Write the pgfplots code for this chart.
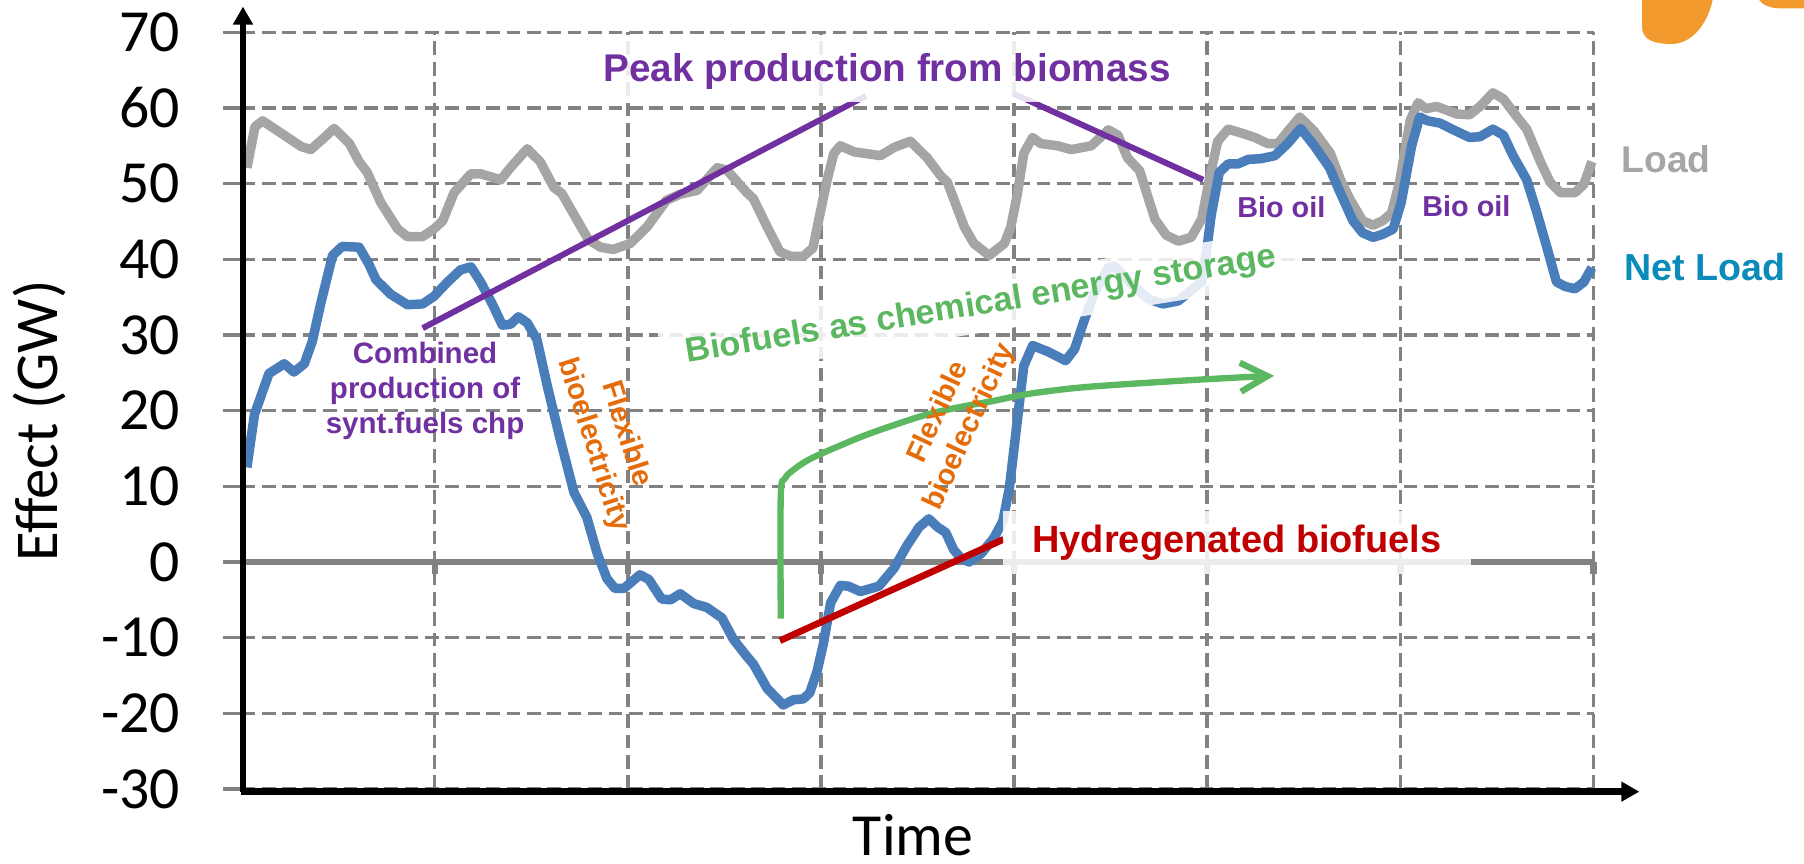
\documentclass[border=0pt]{standalone}
\usepackage{fontspec}
\setmainfont{Carlito}
\newfontfamily\ann{Liberation Sans}
\usepackage{pgfplots}
\usepackage{pgfplotstable}
\pgfplotsset{compat=1.18}
\usetikzlibrary{arrows.meta}
\definecolor{gridgray}{HTML}{828282}
\definecolor{loadgray}{HTML}{A5A5A5}
\definecolor{netblue}{HTML}{4A7EBB}
\definecolor{purp}{HTML}{7030A0}
\definecolor{grn}{HTML}{5BB760}
\definecolor{orng}{HTML}{E46C0A}
\definecolor{dred}{HTML}{C00000}
\definecolor{lblgray}{HTML}{A6A6A6}
\definecolor{lblblue}{HTML}{0A8BBA}
\definecolor{logo}{HTML}{F39A2E}

\pgfplotstableread{
h v
0.66 52.1
1.66 57.5
2.6 58.3
5.3 56.4
7.4 54.9
8.6 54.5
10.3 56.1
11.5 57.3
13.4 55.3
14.6 52.9
15.6 51.5
17.3 47.5
19.4 44.0
20.6 43.0
22.5 43.0
23.9 44.0
25.0 45.1
26.4 48.8
28.5 51.3
29.7 51.3
32.2 50.5
33.4 52.1
35.5 54.6
37.1 52.9
38.8 49.5
39.8 48.7
41.3 45.9
43.1 42.6
44.6 41.6
46.2 41.3
48.3 42.1
50.4 44.3
52.8 47.8
54.5 48.6
56.6 49.1
59.1 52.1
60.3 51.8
62.8 48.8
63.6 48.0
65.3 44.3
66.9 41.0
68.2 40.4
69.8 40.4
71.0 41.5
71.7 45.1
72.7 50.2
73.6 54.0
74.4 55.0
76.1 54.2
79.4 53.7
81.1 54.8
83.1 55.6
85.2 53.4
86.9 51.0
87.7 50.2
89.8 44.3
91.0 42.1
92.9 40.5
94.8 42.1
95.6 44.3
96.4 48.6
97.2 54.0
98.3 56.1
99.3 55.3
101.4 55.0
103.1 54.5
105.6 55.0
107.7 57.1
108.9 56.4
110.1 53.4
111.6 51.7
113.5 45.3
114.9 43.2
116.4 42.4
118.0 42.9
119.3 45.3
120.5 51.8
121.3 55.6
122.6 57.2
124.2 56.7
125.9 56.1
127.5 55.3
128.8 55.3
130.0 56.9
131.5 58.8
133.3 56.9
135.3 54.0
136.6 50.4
137.7 48.0
139.3 45.1
140.6 44.5
141.8 45.1
142.9 46.1
143.9 50.2
145.2 58.3
146.2 60.7
147.2 59.9
148.5 60.2
151.0 59.2
152.6 59.1
153.9 60.2
155.5 62.0
156.8 61.2
158.5 58.8
159.7 57.2
161.4 52.9
162.6 50.2
163.9 48.8
165.7 48.8
166.8 49.9
167.8 52.9
}\loaddata

\pgfplotstableread{
h v
0.66 12.5
1.6 19.5
3.4 24.9
5.3 26.2
6.5 25.1
7.8 26.2
8.8 29.2
9.8 34.0
11.3 40.5
12.5 41.7
14.6 41.6
15.8 39.4
16.7 37.3
18.5 35.4
20.6 34.0
22.5 34.1
23.9 35.1
25.6 37.0
27.2 38.6
28.5 39.0
29.7 37.0
31.2 34.0
32.4 31.3
33.4 31.4
34.4 32.4
35.5 31.6
36.7 29.4
38.0 23.2
39.6 16.2
41.3 9.2
42.9 5.9
44.2 1.1
45.4 -2.2
46.4 -3.5
47.5 -3.5
49.5 -1.7
50.6 -2.3
52.2 -4.9
53.3 -5.0
54.5 -4.2
56.2 -5.5
57.8 -6.0
59.7 -7.4
61.1 -10.2
62.8 -12.5
63.6 -13.5
65.3 -16.7
67.3 -18.9
68.6 -18.2
69.8 -18.1
70.6 -17.3
71.5 -14.5
72.3 -10.8
73.2 -5.4
74.4 -3.1
75.4 -3.2
76.9 -3.9
79.2 -3.2
81.1 -0.8
82.7 2.2
84.2 4.6
85.4 5.7
86.5 4.6
87.5 3.9
88.5 1.6
89.4 0.5
90.4 0.0
91.9 1.1
93.5 3.2
94.6 5.4
95.4 9.7
96.0 15.1
96.6 20.5
97.2 25.9
98.3 28.6
100.2 27.8
102.4 26.6
103.5 28.1
104.7 31.9
106.0 35.6
107.7 38.9
108.5 39.1
110.6 36.7
112.6 34.8
114.5 34.1
116.4 34.5
118.0 35.9
119.3 37.0
119.9 41.0
120.5 45.9
121.5 51.5
122.6 52.6
123.8 52.6
125.1 53.2
126.7 53.3
128.4 53.7
130.0 55.3
131.6 57.3
133.3 55.0
135.2 52.1
136.4 49.1
138.1 45.1
139.3 43.5
140.6 42.9
141.8 43.3
143.1 44.0
144.1 47.5
145.4 55.0
146.4 58.8
147.4 58.3
148.9 58.0
151.0 56.9
152.6 56.1
153.9 56.2
155.5 57.2
156.8 56.4
158.0 53.7
159.7 50.5
160.9 46.4
162.2 41.6
163.4 37.0
164.5 36.4
165.7 36.1
166.8 37.0
167.8 38.9
}\netdata

\begin{document}
\begin{tikzpicture}
\begin{axis}[
  at={(0,0)}, anchor=south west,
  scale only axis, width=13.519cm, height=7.567cm,
  xmin=0, xmax=168, ymin=-30, ymax=70,
  xtick={0,24,...,168}, xticklabels={},
  ytick={-30,-20,...,70},
  yticklabels={-30,-20,-10,0,10,20,30,40,50,60,70},
  tick pos=left,
  xtick style={draw=none},
  ytick style={draw=gridgray, line width=1.0pt},
  tick align=outside, major tick length=0.19cm,
  yticklabel style={font=\fontsize{17}{19}\selectfont, anchor=east, inner sep=0pt, xshift=-0.42cm},
  grid=major,
  major grid style={draw=gridgray, line width=1.0pt, dash pattern=on 3.9pt off 1.9pt},
  axis line style={draw=none},
  xlabel={Time}, ylabel={Effect (GW)},
  xlabel style={font=\fontsize{17}{19}\selectfont, at={(axis description cs:0.4967,0)}, anchor=base, yshift=-0.67cm},
  ylabel style={font=\fontsize{17.3}{19}\selectfont, at={(axis description cs:-0.1363,0.4863)}, anchor=base},
  clip=false,
]
% zero line with small ticks
\addplot[gridgray, line width=1.6pt, forget plot] coordinates {(0,0) (168,0)};
\pgfplotsinvokeforeach{24,48,72,96,120,144,168}{
  \draw[gridgray, line width=1.8pt] (axis cs:#1,0) -- (axis cs:#1,-1.6);
}
% series
\addplot[loadgray, line width=2.7pt, line join=round] table[x=h,y=v]{\loaddata};
\addplot[netblue, line width=2.7pt, line join=round] table[x=h,y=v]{\netdata};
% annotation lines
\addplot[purp, line width=1.7pt] coordinates {(22.5,30.9) (77.6,61.6)};
\addplot[purp, line width=1.7pt] coordinates {(95.9,61.9) (119.5,50.5)};
\addplot[dred, line width=1.9pt] coordinates {(66.9,-10.4) (94.7,3.0)};
\addplot[grn, line width=1.8pt, smooth, -{Straight Barb[length=2.7mm,width=2.9mm]}] coordinates {
(67,-7.5) (67,8.8) (67.5,11.0) (68.6,12.2) (71,13.8) (76.9,16.5) (81.1,18.1) (85.2,19.5) (89.4,20.5) (93.5,21.3) (97.7,22.2) (104.7,23.1) (115.9,23.9) (124.2,24.4) (128.3,24.6)};
% texts
\node[font=\ann\bfseries\fontsize{11}{13}\selectfont, text=purp, fill=white, fill opacity=0.85, text opacity=1, anchor=base, inner xsep=5pt, inner ysep=3.5pt] at (axis cs:80.2,63.5) {Peak production from biomass};
\node[font=\ann\bfseries\fontsize{8.4}{10}\selectfont, text=purp, align=center] at (axis cs:22.8,22.6) {Combined\\production of\\synt.fuels chp};
\node[font=\ann\bfseries\fontsize{8.3}{9.8}\selectfont, text=orng, align=center, rotate=-72.4] at (axis cs:45.7,16.2) {Flexible\\bioelectricity};
\node[font=\ann\bfseries\fontsize{8.3}{9.8}\selectfont, text=orng, align=center, rotate=65.2] at (axis cs:88.6,18.8) {Flexible\\bioelectricity};
\node[font=\ann\bfseries\fontsize{9.8}{12}\selectfont, text=grn, fill=white, fill opacity=0.85, text opacity=1, anchor=base, rotate=9.27, inner xsep=7pt, inner ysep=3pt] at (axis cs:92.04,32.7) {Biofuels as chemical energy storage};
\node[font=\ann\bfseries\fontsize{10.8}{13}\selectfont, text=dred, fill=white, fill opacity=0.85, text opacity=1, anchor=base, inner xsep=8.5pt, inner ysep=4pt] at (axis cs:123.7,1.27) {Hydregenated biofuels};
\node[font=\ann\bfseries\fontsize{8.2}{10}\selectfont, text=purp, anchor=base] at (axis cs:129.2,45.5) {Bio oil};
\node[font=\ann\bfseries\fontsize{8.2}{10}\selectfont, text=purp, anchor=base] at (axis cs:152.2,45.7) {Bio oil};
\node[font=\ann\bfseries\fontsize{10.6}{13}\selectfont, text=lblgray, anchor=base west, inner sep=0pt] at (axis cs:171.4,51.5) {Load};
\node[font=\ann\bfseries\fontsize{10.7}{13}\selectfont, text=lblblue, anchor=base west, inner sep=0pt] at (axis cs:171.8,37.2) {Net Load};
% black axes with arrows
\draw[black, line width=1.9pt, -{Triangle[length=1.8mm,width=1.9mm]}] (axis cs:0.17,-30.35) -- (axis cs:0.17,73.4);
\draw[black, line width=1.9pt, -{Triangle[length=1.8mm,width=1.9mm]}] (axis cs:-0.1,-30.35) -- (axis cs:173.7,-30.35);
\end{axis}
% decorative logo fragments
\fill[logo] (14.004,7.89) -- (14.004,7.62) .. controls (14.004,7.48) and (14.15,7.45) .. (14.30,7.45) .. controls (14.50,7.45) and (14.66,7.65) .. (14.71,7.89) -- cycle;
\fill[logo] (15.174,7.89) .. controls (15.22,7.83) and (15.30,7.806) .. (15.40,7.806) -- (15.624,7.806) -- (15.624,7.89) -- cycle;
\pgfresetboundingbox
\path[use as bounding box] (-2.416,-0.75) rectangle (15.624,7.89);
\end{tikzpicture}
\end{document}
